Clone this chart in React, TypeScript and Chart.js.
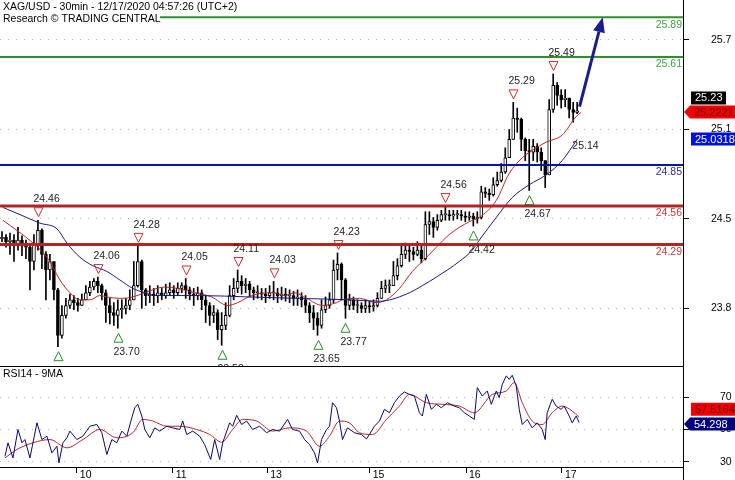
import React, { useEffect, useRef } from 'react';
import { Chart, registerables } from 'chart.js';

Chart.register(...registerables);

const FONT = '"Liberation Sans", Arial, Helvetica, sans-serif';

const title1 = 'XAG/USD - 30min - 12/17/2020 04:57:26 (UTC+2)';
const title2 = 'Research \u00A9 TRADING CENTRAL';
const rsiTitle = 'RSI14 - 9MA';

// candles (bar index 0..144)
const firstOpen = 24.33;
const closes = [
  24.34, 24.31, 24.32, 24.29, 24.32, 24.28, 24.27, 24.17, 24.29, 24.39,
  24.22, 24.11, 24.17, 23.97, 23.65, 23.79, 23.86, 23.90, 23.88, 23.86,
  23.90, 23.95, 23.99, 24.03, 24.00, 23.95, 23.86, 23.81, 23.79, 23.83,
  23.84, 23.86, 23.90, 24.00, 24.17, 23.97, 23.93, 23.94, 23.93, 23.95,
  23.93, 23.95, 23.97, 23.95, 23.98, 24.00, 23.97, 23.94, 23.93, 23.95,
  23.90, 23.86, 23.79, 23.81, 23.69, 23.72, 23.79, 23.93, 23.98, 24.03,
  24.00, 24.01, 23.97, 23.95, 23.95, 23.94, 23.93, 23.95, 23.95, 23.93,
  23.94, 23.93, 23.93, 23.91, 23.92, 23.90, 23.86, 23.81, 23.77, 23.72,
  23.83, 23.86, 23.90, 24.11, 24.15, 24.04, 23.86, 23.90, 23.86, 23.86,
  23.84, 23.86, 23.85, 23.86, 23.91, 23.98, 24.00, 24.00, 24.07, 24.14,
  24.22, 24.25, 24.24, 24.22, 24.25, 24.19, 24.43, 24.45, 24.41, 24.46,
  24.50, 24.50, 24.49, 24.50, 24.50, 24.49, 24.48, 24.49, 24.47, 24.48,
  24.66, 24.65, 24.64, 24.71, 24.74, 24.80, 24.90, 25.03, 25.18, 25.17,
  25.03, 24.95, 24.94, 24.98, 24.94, 24.88, 24.78, 25.24, 25.41, 25.34,
  25.31, 25.32, 25.24, 25.22, 25.23,
];
const highs = [
  24.38, 24.36, 24.37, 24.36, 24.41, 24.35, 24.32, 24.29, 24.36, 24.46,
  24.40, 24.24, 24.22, 24.17, 23.98, 23.86, 23.91, 23.94, 23.93, 23.91,
  23.94, 24.00, 24.03, 24.05, 24.06, 24.01, 23.97, 23.91, 23.88, 23.90,
  23.90, 23.91, 23.97, 24.17, 24.28, 24.18, 23.98, 24.00, 23.98, 24.00,
  23.98, 24.01, 24.02, 24.00, 24.02, 24.02, 24.05, 23.99, 23.98, 23.99,
  23.97, 23.93, 23.88, 23.86, 23.83, 23.81, 23.88, 24.00, 24.05, 24.11,
  24.07, 24.05, 24.03, 23.99, 24.00, 23.98, 23.98, 24.00, 24.03, 23.98,
  23.99, 23.98, 23.97, 23.96, 23.97, 23.95, 23.93, 23.88, 23.86, 23.81,
  23.90, 23.92, 23.95, 24.18, 24.23, 24.16, 24.05, 23.94, 23.92, 23.90,
  23.88, 23.90, 23.89, 23.90, 23.95, 24.03, 24.04, 24.04, 24.17, 24.19,
  24.28, 24.30, 24.29, 24.27, 24.31, 24.29, 24.52, 24.52, 24.48, 24.50,
  24.53, 24.56, 24.53, 24.53, 24.53, 24.53, 24.52, 24.52, 24.51, 24.52,
  24.70, 24.69, 24.68, 24.76, 24.80, 24.86, 24.97, 25.10, 25.29, 25.25,
  25.18, 25.04, 25.03, 25.03, 25.00, 24.97, 24.88, 25.31, 25.49, 25.43,
  25.38, 25.38, 25.32, 25.29, 25.29,
];
const lows = [
  24.31, 24.27, 24.22, 24.17, 24.25, 24.21, 24.19, 23.97, 24.11, 24.25,
  24.12, 23.90, 24.04, 23.90, 23.57, 23.63, 23.77, 23.84, 23.83, 23.82,
  23.86, 23.90, 23.93, 23.97, 23.95, 23.90, 23.74, 23.73, 23.72, 23.70,
  23.77, 23.80, 23.83, 23.90, 23.99, 23.84, 23.86, 23.88, 23.86, 23.88,
  23.90, 23.91, 23.93, 23.91, 23.93, 23.95, 23.91, 23.90, 23.86, 23.90,
  23.83, 23.74, 23.72, 23.74, 23.62, 23.58, 23.69, 23.78, 23.90, 23.95,
  23.94, 23.95, 23.92, 23.90, 23.91, 23.90, 23.88, 23.91, 23.90, 23.88,
  23.90, 23.89, 23.88, 23.86, 23.86, 23.85, 23.81, 23.74, 23.69, 23.65,
  23.70, 23.81, 23.84, 23.88, 24.04, 23.90, 23.77, 23.83, 23.83, 23.81,
  23.81, 23.81, 23.81, 23.82, 23.85, 23.91, 23.95, 23.95, 24.00, 24.04,
  24.13, 24.19, 24.17, 24.18, 24.21, 24.16, 24.18, 24.36, 24.34, 24.39,
  24.45, 24.46, 24.46, 24.46, 24.47, 24.46, 24.45, 24.46, 24.42, 24.44,
  24.47, 24.62, 24.60, 24.63, 24.70, 24.73, 24.79, 24.90, 25.03, 25.08,
  24.95, 24.88, 24.67, 24.88, 24.87, 24.81, 24.69, 24.78, 25.22, 25.27,
  25.25, 25.26, 25.18, 25.15, 25.21,
];

// moving averages on price: [bar index, value]
const maFast: [number, number][] = [
  [0.25, 24.46], [7.75, 24.30], [11.25, 24.20], [12.75, 24.13], [14.5, 24.04], [17, 23.95],
  [19.5, 23.90], [22, 23.90], [24.5, 23.93], [26.25, 23.92], [29.5, 23.91], [32.75, 23.92],
  [35.75, 23.95], [40.75, 23.99], [44, 23.98], [48.25, 23.95], [52.5, 23.92], [56.5, 23.86],
  [59, 23.88], [62.5, 23.93], [67.5, 23.95], [70.75, 23.93], [73.25, 23.95], [76.25, 23.91],
  [80.25, 23.86], [83.75, 23.88], [85.25, 23.90], [89.5, 23.91], [93.75, 23.88], [96.25, 23.90],
  [99.5, 23.98], [102.75, 24.10], [105.25, 24.17], [108.75, 24.27], [112, 24.36], [117, 24.45],
  [119.5, 24.48], [123.75, 24.60], [127, 24.79], [130.25, 24.90], [133.75, 24.97], [136.25, 25.01],
  [140.25, 25.06], [143.75, 25.19], [145, 25.22],
];
const maSlow: [number, number][] = [
  [0.25, 24.55], [4.5, 24.50], [9.5, 24.44], [13.75, 24.40], [16.25, 24.30], [19.5, 24.20],
  [22.75, 24.14], [26.25, 24.10], [29.5, 24.04], [32.75, 23.98], [35.75, 23.95], [38.25, 23.93],
  [49.5, 23.93], [62, 23.92], [74.5, 23.91], [87, 23.90], [94.5, 23.89], [101.25, 23.94],
  [105.25, 24.00], [108.75, 24.06], [114.5, 24.17], [117.75, 24.25], [119.5, 24.32], [123.75, 24.48],
  [127.75, 24.62], [132, 24.71], [136.25, 24.78], [140.25, 24.88], [144, 25.03],
];

// horizontal levels
const levels = [25.89, 25.61, 24.85, 24.56, 24.29];
const levelColors = ['#2f8f2f', '#2f8f2f', '#0a14a8', '#b42424', '#b42424'];
const levelTextColors = ['#3f9f3f', '#3f9f3f', '#2a2aa8', '#c43a3a', '#c43a3a'];
const levelWidths = [2, 2, 2, 3, 3];

// pivot markers: [bar index, value]
const highMarks: [number, number][] = [
  [9, 24.46], [24, 24.06], [34, 24.28], [46, 24.05], [59, 24.11], [68, 24.03], [84, 24.23],
  [111, 24.56], [128, 25.29], [138, 25.49],
];
const lowMarks: [number, number][] = [
  [14, 23.57], [29, 23.70], [55, 23.58], [79, 23.65], [86, 23.77], [118, 24.42], [132, 24.67],
];

const arrowFrom: [number, number] = [144.6, 25.26];
const arrowTo: [number, number] = [150.4, 25.89];
const noteText = '25.14';
const notePos: [number, number] = [142.8, 24.98];

const lastPrice = 25.23;
const maFastLast = 25.2221;
const maSlowLast = 25.0318;

const mainTicks = [25.73, 25.10, 24.47, 23.84];

// RSI panel
const rsi: [number, number][] = [
  [0.75, 33.5], [1.5, 41.8], [2.75, 32.5], [4, 50], [5, 41.8], [5.75, 43.8], [7, 32.5], [8.75, 54.1],
  [10, 43.8], [11.25, 45.9], [12.5, 35.6], [13.75, 39.7], [14.25, 29.4], [15.25, 41.8], [16.25, 44.9],
  [17, 49], [18.75, 43.8], [20.25, 45.9], [22, 52], [23.75, 53.1], [25, 48], [26.25, 34.6], [27.5, 43.8],
  [28.75, 41.8], [30, 49], [31.25, 45.9], [32.5, 57.2], [33.25, 63.4], [34, 65.5], [35, 58.3],
  [35.75, 50], [37, 44.9], [38.25, 51], [39.5, 49], [41.25, 52], [42.75, 51], [44.5, 50], [45.25, 55.2],
  [46.25, 46.9], [47.75, 49], [49.5, 45.9], [50.75, 40.7], [52.25, 31.5], [53.25, 43.8], [54.5, 31.5],
  [55.25, 41.8], [57, 54.1], [57.75, 52], [58.75, 58.7], [60, 53.1], [61.25, 55.2], [62.75, 50],
  [64.5, 52], [66.25, 48], [67.75, 50], [69.5, 49], [71.5, 56.2], [72.75, 50], [74.5, 49], [75.75, 43.8],
  [77, 40.7], [78.25, 35.6], [79, 29.4], [80, 43.8], [81.25, 50], [82, 52], [82.75, 66.5], [83.75, 63.4],
  [84.5, 55.2], [85.25, 43.8], [86.5, 51], [88.25, 48], [90, 46.9], [91.25, 44.2], [92, 46.9],
  [93.25, 52], [94.5, 55.2], [95.75, 62.4], [97, 60.3], [98.25, 66.5], [99.5, 70.6], [100.75, 73.1],
  [102, 71.6], [103.25, 70.6], [104.5, 60.3], [105.25, 58.3], [106.25, 71.6], [107.5, 62.4],
  [108.75, 65.5], [110, 63.4], [111.5, 66.5], [113.25, 64.4], [114.5, 63.4], [115.75, 60.3], [117, 58.3],
  [118.25, 56.2], [119, 75.8], [120.25, 70.6], [121.5, 73.7], [122.5, 65.5], [123.75, 73.7],
  [124.5, 69.6], [125.25, 77.8], [126.25, 83], [127, 80.9], [127.75, 83.4], [128.75, 76.8],
  [129.5, 62.4], [130.25, 53.1], [131.5, 56.2], [132.75, 51], [134, 54.1], [135.25, 50], [136, 43.8],
  [136.5, 60.3], [137.75, 68.6], [138.75, 64.4], [140, 62.4], [140.75, 64.4], [142, 58.3],
  [142.75, 54.1], [143.75, 58.3], [144.5, 54.3],
];
const rsiMa: [number, number][] = [
  [0.75, 32.5], [3.75, 37.7], [7.75, 41.8], [12, 43.8], [16.25, 38.7], [20.25, 43.8], [24.5, 50],
  [28.75, 44.9], [32.75, 48], [35.25, 56.2], [37.75, 55.2], [41.25, 52], [44.5, 52], [48.75, 50],
  [52, 46.9], [55, 42.2], [57.75, 50], [60.25, 56.2], [63.75, 55.2], [67.75, 49], [72, 51], [76.25, 49],
  [79.5, 39.7], [82, 45.9], [84.5, 55.2], [87, 54.1], [89.5, 48], [92.75, 46.9], [96.25, 56.2],
  [99.5, 64.4], [102, 71.6], [106.25, 66.5], [110.25, 65.5], [114.5, 64.4], [118.25, 60.3],
  [122.75, 71.6], [126.25, 73.7], [128.25, 78.9], [130.25, 66.5], [132.75, 55.2], [135.25, 53.1],
  [137.75, 60.3], [140.25, 64.4], [142.75, 61.4], [144.5, 57.5],
];
const rsiLast = 54.298;
const rsiMaLast = 57.5164;
const rsiTicks = [70, 50, 30];

const dayTicks = [18.75, 42.75, 66.4, 92.1, 116.2, 140.2];
const dayLabels = ['10', '11', '13', '15', '16', '17'];

const X_MIN = -0.5;
const X_MAX = 170.5;

function drawBox(ctx: CanvasRenderingContext2D, text: string, left: number, yc: number, w: number,
  fill: string, color: string, arrow: boolean) {
  const h = 13;
  ctx.fillStyle = fill;
  ctx.beginPath();
  if (arrow) {
    ctx.moveTo(left - 6, yc);
    ctx.lineTo(left, yc - h / 2);
    ctx.lineTo(left + w, yc - h / 2);
    ctx.lineTo(left + w, yc + h / 2);
    ctx.lineTo(left, yc + h / 2);
    ctx.closePath();
  } else {
    ctx.rect(left, yc - h / 2, w, h);
  }
  ctx.fill();
  ctx.fillStyle = color;
  ctx.font = `11px ${FONT}`;
  ctx.textAlign = 'left';
  ctx.textBaseline = 'middle';
  ctx.fillText(text, left + 4, yc + 0.5);
}

const mainDecor = {
  id: 'mainDecor',
  afterDraw(chart: any) {
    const { ctx, chartArea } = chart;
    const xs = chart.scales.x;
    const ys = chart.scales.y;
    ctx.save();
    // level labels
    ctx.font = `10.5px ${FONT}`;
    ctx.textAlign = 'right';
    ctx.textBaseline = 'middle';
    levels.forEach((v, i) => {
      ctx.fillStyle = levelTextColors[i];
      ctx.fillText(v.toFixed(2), chartArea.right - 1, ys.getPixelForValue(v) + 7.5);
    });
    // pivot markers
    ctx.lineWidth = 1;
    ctx.textAlign = 'left';
    highMarks.forEach(([i, v]) => {
      const px = Math.round(xs.getPixelForValue(i)) + 0.5;
      const py = ys.getPixelForValue(v);
      ctx.strokeStyle = '#c83030';
      ctx.beginPath();
      ctx.moveTo(px - 4.5, py - 12.5);
      ctx.lineTo(px + 4.5, py - 12.5);
      ctx.lineTo(px, py - 3.5);
      ctx.closePath();
      ctx.stroke();
      ctx.fillStyle = '#222';
      ctx.fillText(v.toFixed(2), px - 5, py - 21);
    });
    lowMarks.forEach(([i, v]) => {
      const px = Math.round(xs.getPixelForValue(i)) + 0.5;
      const py = ys.getPixelForValue(v);
      ctx.strokeStyle = '#2a8a2a';
      ctx.beginPath();
      ctx.moveTo(px - 4.5, py + 14);
      ctx.lineTo(px + 4.5, py + 14);
      ctx.lineTo(px, py + 5);
      ctx.closePath();
      ctx.stroke();
      ctx.fillStyle = '#222';
      ctx.fillText(v.toFixed(2), px - 5, py + 24);
    });
    // note
    ctx.fillStyle = '#222';
    ctx.fillText(noteText, xs.getPixelForValue(notePos[0]), ys.getPixelForValue(notePos[1]));
    // projection arrow
    const x0 = xs.getPixelForValue(arrowFrom[0]);
    const y0 = ys.getPixelForValue(arrowFrom[1]);
    const x1 = xs.getPixelForValue(arrowTo[0]);
    const y1 = ys.getPixelForValue(arrowTo[1]);
    const ang = Math.atan2(y1 - y0, x1 - x0);
    const hl = 15, hw = 6;
    const bx = x1 - hl * Math.cos(ang);
    const by = y1 - hl * Math.sin(ang);
    ctx.strokeStyle = '#1c1c8c';
    ctx.lineWidth = 3;
    ctx.beginPath();
    ctx.moveTo(x0, y0);
    ctx.lineTo(bx, by);
    ctx.stroke();
    ctx.fillStyle = '#1c1c8c';
    ctx.beginPath();
    ctx.moveTo(x1, y1);
    ctx.lineTo(bx + hw * Math.sin(ang), by - hw * Math.cos(ang));
    ctx.lineTo(bx - hw * Math.sin(ang), by + hw * Math.cos(ang));
    ctx.closePath();
    ctx.fill();
    // title
    ctx.fillStyle = '#fff';
    ctx.fillRect(0, 12, 160, 13);
    ctx.fillStyle = '#000';
    ctx.font = `10.5px ${FONT}`;
    ctx.textAlign = 'left';
    ctx.textBaseline = 'middle';
    ctx.fillText(title1, 3, 7);
    ctx.fillText(title2, 3, 19.5);
    // value boxes
    drawBox(ctx, lastPrice.toFixed(2), 691, ys.getPixelForValue(lastPrice) - 13, 35, '#000', '#fff', false);
    drawBox(ctx, maFastLast.toFixed(4), 690, ys.getPixelForValue(maFastLast), 45, '#f20000', '#6a0000', true);
    drawBox(ctx, maSlowLast.toFixed(4), 691, ys.getPixelForValue(maSlowLast), 44, '#0010e0', '#fff', false);
    ctx.restore();
  },
};

const rsiDecor = {
  id: 'rsiDecor',
  afterDraw(chart: any) {
    const { ctx, chartArea, height } = chart;
    const ys = chart.scales.y;
    ctx.save();
    ctx.strokeStyle = '#000';
    ctx.lineWidth = 1;
    ctx.beginPath();
    ctx.moveTo(0, 0.5);
    ctx.lineTo(chartArea.right, 0.5);
    ctx.moveTo(chartArea.right + 0.5, chartArea.bottom);
    ctx.lineTo(chartArea.right + 0.5, height);
    ctx.stroke();
    ctx.fillStyle = '#000';
    ctx.font = `10.5px ${FONT}`;
    ctx.textAlign = 'left';
    ctx.textBaseline = 'middle';
    ctx.fillText(rsiTitle, 3, 8);
    drawBox(ctx, rsiMaLast.toFixed(4), 691, ys.getPixelForValue(rsiMaLast) - 8, 44, '#f20000', '#6a0000', false);
    drawBox(ctx, rsiLast.toFixed(3), 690, ys.getPixelForValue(rsiLast) + 1.5, 45, '#000080', '#fff', true);
    ctx.restore();
  },
};

export default function App() {
  const mainRef = useRef<HTMLCanvasElement | null>(null);
  const rsiRef = useRef<HTMLCanvasElement | null>(null);

  useEffect(() => {
    const opens = closes.map((_, i) => (i === 0 ? firstOpen : closes[i - 1]));
    const tickFont = { family: FONT, size: 10.5 };

    const levelSets = levels.map((v, i) => ({
      type: 'line' as const,
      data: [{ x: X_MIN, y: v }, { x: X_MAX, y: v }],
      borderColor: levelColors[i],
      borderWidth: levelWidths[i],
      pointRadius: 0,
      order: 1,
    }));

    const main = new Chart(mainRef.current as HTMLCanvasElement, {
      type: 'bar',
      data: {
        datasets: [
          ...levelSets,
          {
            type: 'line',
            data: maSlow.map(([x, y]) => ({ x, y })),
            borderColor: '#1a1a80',
            borderWidth: 1,
            pointRadius: 0,
            cubicInterpolationMode: 'monotone',
            order: 3,
          },
          {
            type: 'line',
            data: maFast.map(([x, y]) => ({ x, y })),
            borderColor: '#b02828',
            borderWidth: 1,
            pointRadius: 0,
            cubicInterpolationMode: 'monotone',
            order: 3,
          },
          {
            type: 'bar',
            data: closes.map((c, i) => ({ x: i, y: [opens[i], c] })),
            backgroundColor: closes.map((c, i) => (c >= opens[i] ? '#ffffff' : '#000000')),
            borderColor: '#000',
            borderWidth: 1,
            borderSkipped: false,
            barThickness: 3,
            minBarLength: 1,
            grouped: false,
            order: 5,
          },
          {
            type: 'bar',
            data: highs.map((h, i) => ({ x: i, y: [lows[i], h] })),
            backgroundColor: '#000',
            borderWidth: 0,
            barThickness: 1,
            grouped: false,
            order: 6,
          },
        ] as any,
      },
      options: {
        responsive: false,
        animation: false,
        devicePixelRatio: 1,
        layout: { padding: 0 },
        plugins: { legend: { display: false }, tooltip: { enabled: false } },
        scales: {
          x: { type: 'linear', display: false, offset: false, min: X_MIN, max: X_MAX },
          y: {
            position: 'right',
            min: 23.434,
            max: 26.011,
            afterFit: (s: any) => { s.width = 52; s.paddingTop = 0; s.paddingBottom = 0; },
            afterBuildTicks: (s: any) => { s.ticks = mainTicks.map((v) => ({ value: v })); },
            ticks: {
              callback: (v: any) => Number(v).toFixed(1),
              font: tickFont,
              color: '#000',
              crossAlign: 'near',
              padding: 22,
              autoSkip: false,
            },
            grid: { color: '#b4b4b4', lineWidth: 1, tickColor: '#000', tickLength: 6, drawTicks: true },
            border: { display: true, color: '#000', width: 1, dash: [1, 7] },
          },
        },
      } as any,
      plugins: [mainDecor],
    });

    const rsiChart = new Chart(rsiRef.current as HTMLCanvasElement, {
      type: 'line',
      data: {
        datasets: [
          {
            data: rsiMa.map(([x, y]) => ({ x, y })),
            borderColor: '#b02828',
            borderWidth: 1,
            pointRadius: 0,
            cubicInterpolationMode: 'monotone',
            order: 2,
          },
          {
            data: rsi.map(([x, y]) => ({ x, y })),
            borderColor: '#0a0a66',
            borderWidth: 1,
            pointRadius: 0,
            tension: 0,
            order: 1,
          },
        ] as any,
      },
      options: {
        responsive: false,
        animation: false,
        devicePixelRatio: 1,
        layout: { padding: 0 },
        plugins: { legend: { display: false }, tooltip: { enabled: false } },
        scales: {
          x: {
            type: 'linear',
            position: 'bottom',
            offset: false,
            min: X_MIN,
            max: X_MAX,
            afterFit: (s: any) => { s.height = 13; s.paddingLeft = 0; s.paddingRight = 0; },
            afterBuildTicks: (s: any) => { s.ticks = dayTicks.map((v) => ({ value: v })); },
            ticks: {
              callback: (_v: any, i: number) => ' ' + dayLabels[i],
              autoSkip: false,
              maxRotation: 0,
              minRotation: 0,
              align: 'start',
              padding: -4,
              font: tickFont,
              color: '#000',
            },
            grid: { drawOnChartArea: false, drawTicks: true, tickLength: 6, tickColor: '#000' },
            border: { display: true, color: '#000', width: 1 },
          },
          y: {
            position: 'right',
            min: 26.9,
            max: 89.1,
            afterFit: (s: any) => { s.width = 52; s.paddingTop = 0; s.paddingBottom = 0; },
            afterBuildTicks: (s: any) => { s.ticks = rsiTicks.map((v) => ({ value: v })); },
            ticks: {
              callback: (v: any) => String(v),
              font: tickFont,
              color: '#000',
              crossAlign: 'near',
              padding: 31,
              autoSkip: false,
            },
            grid: { color: '#b4b4b4', lineWidth: 1, tickColor: '#000', tickLength: 6, drawTicks: true },
            border: { display: true, color: '#000', width: 1, dash: [1, 7] },
          },
        },
      } as any,
      plugins: [rsiDecor],
    });

    return () => {
      main.destroy();
      rsiChart.destroy();
    };
  }, []);

  return (
    <div style={{ position: 'fixed', left: 0, top: 0, width: 735, height: 480, background: '#fff', overflow: 'hidden' }}>
      <canvas ref={mainRef} width={735} height={366}
        style={{ position: 'absolute', left: 0, top: 0, width: 735, height: 366 }} />
      <canvas ref={rsiRef} width={735} height={114}
        style={{ position: 'absolute', left: 0, top: 366, width: 735, height: 114 }} />
    </div>
  );
}
